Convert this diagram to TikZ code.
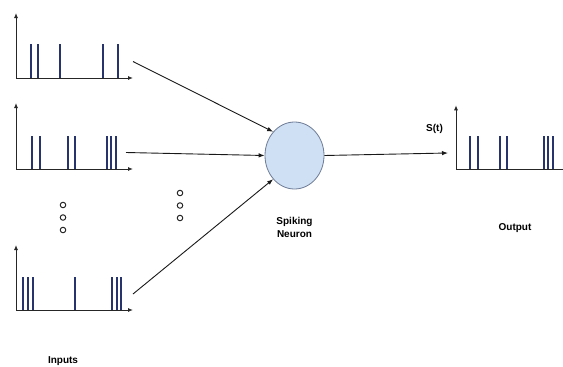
\documentclass[tikz,border=0pt]{standalone}
\usepackage{fontspec}
\setmainfont{Liberation Sans}
\usetikzlibrary{arrows.meta,shapes.geometric}
\definecolor{spikeblue}{HTML}{27336B}
\definecolor{cellfill}{HTML}{CFE0F5}
\definecolor{cellline}{HTML}{6E7C96}
\begin{document}
\begin{tikzpicture}[x=1pt,y=-1pt,
  axis/.style={line width=0.9pt, draw=black!85, -{Latex[length=5pt,width=4pt]}},
  spike/.style={line width=1.8pt, draw=spikeblue},
  link/.style={line width=0.9pt, draw=black!90, -{Latex[length=6pt,width=4.5pt]}},
  lbl/.style={font=\bfseries\fontsize{10}{13}\selectfont, inner sep=0pt, align=center},
  dot/.style={circle, draw=black!85, line width=1pt, minimum size=5.5pt, inner sep=0pt}]
\clip (0,0) rectangle (563,367);
\useasboundingbox (0,0) rectangle (563,367);

% input spike train 1
\coordinate (o1) at (16,78);
\draw[axis] (o1) -- ++(0,-65);
\draw[axis] (o1) -- ++(117,0);
\foreach \x in {31,38.3,60,103.3,118.3} \draw[spike] (\x,78) -- (\x,44.3);

% input spike train 2
\coordinate (o2) at (16,169);
\draw[axis] (o2) -- ++(0,-66);
\draw[axis] (o2) -- ++(117,0);
\foreach \x in {31.7,40,67.7,75,106.7,111,115.7} \draw[spike] (\x,169) -- (\x,136);

% input spike train n
\coordinate (o3) at (16,310);
\draw[axis] (o3) -- ++(0,-65);
\draw[axis] (o3) -- ++(117,0);
\foreach \x in {23.3,28.3,33.3,75,111.7,116.7,121} \draw[spike] (\x,310) -- (\x,277.3);

% output spike train
\coordinate (o4) at (456,169.3);
\draw[axis] (o4) -- ++(0,-64);
\draw[axis] (o4) -- ++(125,0);
\foreach \x in {470,477.7,500,507.3,544,548.3,552.7} \draw[spike] (\x,169.3) -- (\x,136);

% vertical ellipsis marks
\foreach \y [count=\i] in {205,217.5,230} \node[dot] (la\i) at (63,\y) {};
\foreach \y [count=\i] in {193,205.5,218} \node[dot] (ra\i) at (180,\y) {};

% neuron
\node[ellipse, draw=cellline, fill=cellfill, line width=0.8pt,
      minimum width=59pt, minimum height=67pt, inner sep=0pt] (neuron) at (294.5,155.5) {};

% connections
\coordinate (s1) at (133,61.5);
\coordinate (s2) at (126,152.5);
\coordinate (s3) at (133,294);
\coordinate (out) at (448,153);
\draw[link] (s1) -- (neuron.132);
\draw[link] (s2) -- (neuron.180);
\draw[link] (s3) -- (neuron.228);
\draw[link] (neuron.east) -- (out);

% labels
\node[lbl] (lneuron) at (294.5,227.5) {Spiking\\Neuron};
\node[lbl] (lst) at (434.5,128.5) {S(t)};
\node[lbl] (lout) at (515,228) {Output};
\node[lbl] (lin) at (63,361) {Inputs};
\end{tikzpicture}
\end{document}
